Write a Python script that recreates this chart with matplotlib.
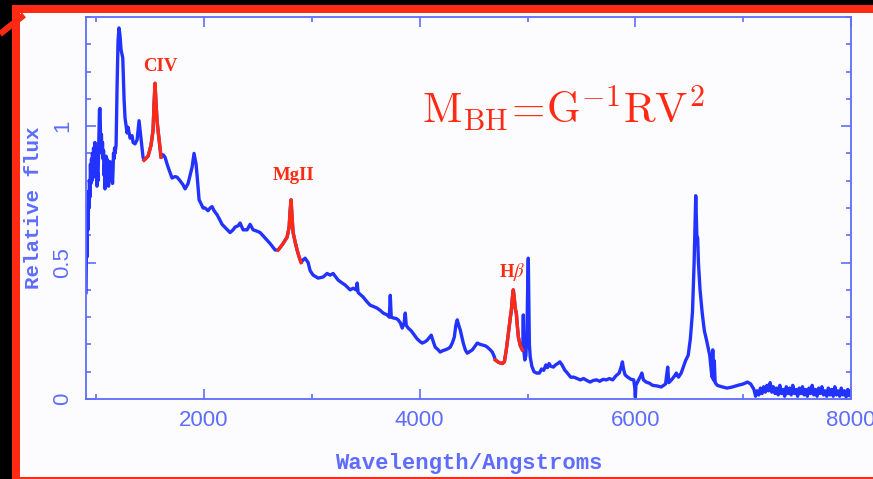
import numpy as np
import matplotlib.pyplot as plt
from matplotlib.patches import Rectangle
from matplotlib.lines import Line2D
from matplotlib.ticker import MultipleLocator

# spectrum (wavelength in Angstrom, relative flux)
wave = [905, 910, 914, 918, 923, 927, 932, 937, 942, 946, 951, 956, 960, 965, 970, 975,
        980, 985, 988, 993, 998, 1002, 1007, 1012, 1016, 1022, 1030, 1035, 1040, 1044, 1048, 1053,
        1058, 1063, 1068, 1072, 1077, 1081, 1086, 1091, 1095, 1100, 1105, 1109, 1114, 1118, 1123, 1128,
        1132, 1137, 1142, 1146, 1151, 1156, 1160, 1165, 1170, 1174, 1184, 1193, 1202, 1211, 1221, 1230,
        1246, 1258, 1267, 1286, 1295, 1314, 1332, 1342, 1360, 1379, 1397, 1416, 1434, 1443,
        1481, 1508, 1527, 1536, 1545, 1555, 1564, 1573, 1592, 1601,
        1620, 1638, 1666, 1685, 1703, 1731, 1750, 1777, 1805, 1824, 1852, 1870, 1889, 1907, 1926, 1935,
        1954, 1972, 1991, 2009, 2037, 2056, 2074, 2093, 2121, 2148, 2167, 2204, 2241, 2269, 2288, 2316,
        2334, 2362, 2399, 2427, 2455, 2492, 2520, 2566, 2612, 2659, 2687,
        2715, 2733, 2770, 2789, 2798, 2807, 2817, 2826, 2845, 2863, 2882, 2900,
        2919, 2937, 2965, 2984, 3012, 3058, 3104, 3141, 3169, 3197, 3243, 3281, 3308, 3355, 3382, 3410,
        3420, 3429, 3475, 3503, 3540, 3577, 3605, 3633, 3661, 3698, 3718, 3727, 3736, 3754, 3782, 3800,
        3819, 3838, 3856, 3866, 3875, 3893, 3921, 3940, 3958, 3977, 4005, 4023, 4051, 4070, 4088, 4107,
        4126, 4144, 4172, 4190, 4218, 4237, 4265, 4283, 4302, 4321, 4335, 4348, 4362, 4376, 4395, 4404,
        4423, 4441, 4469, 4488, 4515, 4534, 4562, 4581, 4608, 4627, 4655, 4673, 4692, 4701,
        4729, 4748, 4766, 4785, 4803, 4822, 4840, 4850, 4859, 4868, 4877, 4887, 4896, 4905, 4915, 4933,
        4952, 4957, 4961, 4965, 4975, 4985, 4995, 5003, 5007, 5011, 5017, 5025, 5040, 5060, 5085, 5110,
        5130, 5150, 5170, 5185, 5200, 5215, 5240, 5260, 5280, 5300, 5320, 5345, 5370, 5400, 5430, 5460,
        5490, 5520, 5550, 5580, 5610, 5640, 5670, 5700, 5730, 5760, 5790, 5820, 5850, 5870, 5880, 5890,
        5905, 5930, 5960, 5985, 5995, 6000, 6005, 6020, 6050, 6060, 6075, 6100, 6130, 6160, 6200, 6240,
        6280, 6300, 6310, 6335, 6365, 6380, 6400, 6425, 6445, 6465, 6490, 6510, 6530, 6545, 6560, 6570,
        6578, 6585, 6600, 6620, 6640, 6660, 6690, 6705, 6712, 6718, 6724, 6732, 6740, 6760, 6800, 6850,
        6900, 6950, 7000, 7040, 7070,
        7100, 7115, 7130, 7145, 7160, 7175, 7190, 7205, 7220, 7235, 7250, 7265, 7280, 7295, 7310, 7325,
        7340, 7355, 7370, 7385, 7400, 7415, 7430, 7445, 7460, 7475, 7490, 7505, 7520, 7535, 7550, 7565,
        7580, 7595, 7610, 7625, 7640, 7655, 7670, 7685, 7700, 7715, 7730, 7745, 7760, 7775, 7790, 7805,
        7820, 7835, 7850, 7865, 7880, 7895, 7910, 7925, 7940, 7955, 7970, 7985, 8000]
flux = [0.39, 0.60, 0.52, 0.70, 0.62, 0.76, 0.70, 0.80, 0.74, 0.86, 0.79, 0.88, 0.80, 0.90, 0.84, 0.92,
        0.85, 0.89, 0.94, 0.86, 0.81, 0.85, 0.78, 0.83, 0.80, 0.92, 1.06, 1.065, 0.96, 0.92, 0.97, 0.90,
        0.94, 0.88, 0.91, 0.82, 0.86, 0.77, 0.85, 0.89, 0.84, 0.88, 0.82, 0.86, 0.78, 0.84, 0.80, 0.87,
        0.81, 0.85, 0.80, 0.83, 0.79, 0.84, 0.90, 0.88, 0.92, 0.90, 0.93, 1.14, 1.31, 1.36, 1.33, 1.28,
        1.25, 1.10, 1.03, 0.975, 0.996, 0.956, 0.965, 0.94, 0.935, 0.95, 1.02, 0.95, 0.886, 0.875,
        0.89, 0.93, 0.985, 1.08, 1.157, 1.08, 1.02, 0.985, 0.92, 0.886,
        0.895, 0.886, 0.85, 0.83, 0.81, 0.815, 0.813, 0.80, 0.785, 0.77, 0.79, 0.82, 0.85, 0.90, 0.86, 0.82,
        0.73, 0.715, 0.70, 0.70, 0.69, 0.70, 0.705, 0.69, 0.675, 0.655, 0.64, 0.625, 0.61, 0.62, 0.63, 0.635,
        0.645, 0.62, 0.62, 0.64, 0.62, 0.615, 0.61, 0.59, 0.57, 0.546, 0.546,
        0.56, 0.57, 0.593, 0.63, 0.69, 0.73, 0.66, 0.61, 0.575, 0.546, 0.52, 0.50,
        0.51, 0.516, 0.50, 0.47, 0.454, 0.443, 0.447, 0.46, 0.454, 0.46, 0.436, 0.425, 0.418, 0.40, 0.406, 0.40,
        0.425, 0.39, 0.374, 0.36, 0.344, 0.338, 0.333, 0.325, 0.315, 0.308, 0.30, 0.38, 0.30, 0.297, 0.295, 0.29,
        0.28, 0.26, 0.28, 0.315, 0.27, 0.26, 0.25, 0.24, 0.23, 0.22, 0.21, 0.205, 0.21, 0.216, 0.225, 0.234,
        0.21, 0.19, 0.18, 0.172, 0.178, 0.18, 0.185, 0.19, 0.205, 0.227, 0.27, 0.29, 0.27, 0.253, 0.22, 0.205,
        0.18, 0.168, 0.175, 0.18, 0.195, 0.205, 0.20, 0.198, 0.195, 0.19, 0.18, 0.172, 0.155, 0.143,
        0.135, 0.132, 0.13, 0.136, 0.18, 0.24, 0.30, 0.326, 0.37, 0.40, 0.37, 0.33, 0.315, 0.27, 0.227, 0.195,
        0.18, 0.20, 0.308, 0.18, 0.143, 0.16, 0.25, 0.45, 0.516, 0.40, 0.20, 0.154, 0.12, 0.10, 0.095, 0.095,
        0.11, 0.105, 0.125, 0.115, 0.13, 0.12, 0.117, 0.125, 0.13, 0.136, 0.125, 0.106, 0.095, 0.08, 0.08, 0.075,
        0.07, 0.075, 0.068, 0.062, 0.068, 0.07, 0.065, 0.072, 0.07, 0.075, 0.07, 0.085, 0.095, 0.12, 0.136, 0.11,
        0.088, 0.08, 0.072, 0.07, 0.04, 0.007, 0.05, 0.062, 0.085, 0.095, 0.07, 0.062, 0.058, 0.05, 0.048, 0.044,
        0.055, 0.117, 0.06, 0.07, 0.085, 0.095, 0.08, 0.095, 0.117, 0.14, 0.16, 0.22, 0.32, 0.50, 0.745, 0.60,
        0.59, 0.50, 0.40, 0.315, 0.25, 0.216, 0.16, 0.10, 0.08, 0.18, 0.07, 0.14, 0.06, 0.05, 0.045, 0.04,
        0.044, 0.05, 0.055, 0.062, 0.055,
        0.035, 0.01, 0.03, 0.015, 0.04, 0.02, 0.045, 0.025, 0.05, 0.03, 0.06, 0.025, 0.045, 0.02, 0.04, 0.015,
        0.05, 0.02, 0.035, 0.01, 0.045, 0.02, 0.04, 0.015, 0.05, 0.02, 0.035, 0.01, 0.04, 0.02, 0.045, 0.015,
        0.035, 0.01, 0.04, 0.02, 0.05, 0.015, 0.035, 0.01, 0.04, 0.02, 0.045, 0.015, 0.03, 0.01, 0.04, 0.015,
        0.035, 0.01, 0.045, 0.015, 0.03, 0.01, 0.04, 0.015, 0.03, 0.008, 0.035, 0.012, 0.03]

# broad lines highlighted in red
red_ranges = [(1443, 1601), (2687, 2900), (4701, 4952)]
line_names = ['CIV', 'MgII', r'H$\beta$']
label_x = [1592, 2826, 4858]
label_y = [1.22, 0.82, 0.465]

blue = '#2233ff'
axblue = '#5f6dff'
red = '#ff2a14'

wave = np.array(wave)
flux = np.array(flux)

fig = plt.figure(figsize=(8.73, 4.79), dpi=100, facecolor='black')
W, H = 873, 479

# slide frame
fig.patches.append(Rectangle((20 / W, 2 / H), 1 - 20 / W, 464 / H, transform=fig.transFigure,
                             facecolor='#fcfcfe', edgecolor='none', zorder=-2))
fig.patches.append(Rectangle((12 / W, 466 / H), 1 - 12 / W, 8 / H, transform=fig.transFigure,
                             facecolor=red, edgecolor='none', zorder=-1))
fig.patches.append(Rectangle((12 / W, 0), 8 / W, 474 / H, transform=fig.transFigure,
                             facecolor=red, edgecolor='none', zorder=-1))
fig.patches.append(Rectangle((12 / W, 0), 1 - 12 / W, 2 / H, transform=fig.transFigure,
                             facecolor=red, edgecolor='none', zorder=-1))
fig.lines.append(Line2D([0, 24 / W], [(H - 34) / H, (H - 15) / H], transform=fig.transFigure,
                        color=red, lw=4.5, solid_capstyle='butt', zorder=-1))

ax = fig.add_axes([86 / W, 80 / H, 765 / W, 382 / H])
ax.set_zorder(5)
ax.set_facecolor('none')

ax.plot(wave, flux, color=blue, lw=2.4, solid_joinstyle='round')
for lo, hi in red_ranges:
    m = (wave >= lo) & (wave <= hi)
    ax.plot(wave[m], flux[m], color=red, lw=2.4, solid_joinstyle='round')

for name, lx, ly in zip(line_names, label_x, label_y):
    ax.text(lx, ly, name, color=red, fontsize=13.5, fontweight='bold', family='Liberation Serif',
            ha='center', va='center', math_fontfamily='stix')

ax.text(0.439, 0.7225, r'$\mathrm{M_{BH}\!=\!G^{-1}RV^{2}}$', transform=ax.transAxes,
        color=red, fontsize=31, ha='left', va='baseline', math_fontfamily='cm')

ax.set_xlim(905, 8000)
ax.set_ylim(0, 1.4)
ax.xaxis.set_major_locator(MultipleLocator(2000))
ax.xaxis.set_minor_locator(MultipleLocator(1000))
ax.yaxis.set_major_locator(MultipleLocator(0.5))
ax.yaxis.set_minor_locator(MultipleLocator(0.1))
ax.set_yticks([0, 0.5, 1])
ax.set_yticklabels(['0', '0.5', '1'])

for s in ax.spines.values():
    s.set_color(axblue)
    s.set_linewidth(1.3)
ax.tick_params(which='both', direction='in', top=True, right=True, color=axblue, width=1.2)
ax.tick_params(which='major', length=7.5)
ax.tick_params(which='minor', length=3.8)
ax.tick_params(axis='x', labelsize=16, labelcolor=axblue, pad=8)
ax.tick_params(axis='y', labelsize=16, labelcolor=axblue, pad=9, labelrotation=90)
for t in ax.get_xticklabels() + ax.get_yticklabels():
    t.set_family('Liberation Sans')
for t in ax.get_yticklabels():
    t.set_va('center')

ax.set_xlabel('Wavelength/Angstroms', family='Liberation Mono', fontweight='bold', fontsize=16,
              color=axblue, labelpad=16)
ax.set_ylabel('Relative flux', family='Liberation Mono', fontweight='bold', fontsize=15,
              color=axblue, labelpad=7)

fig.savefig('out.png', dpi=100, facecolor='black')
